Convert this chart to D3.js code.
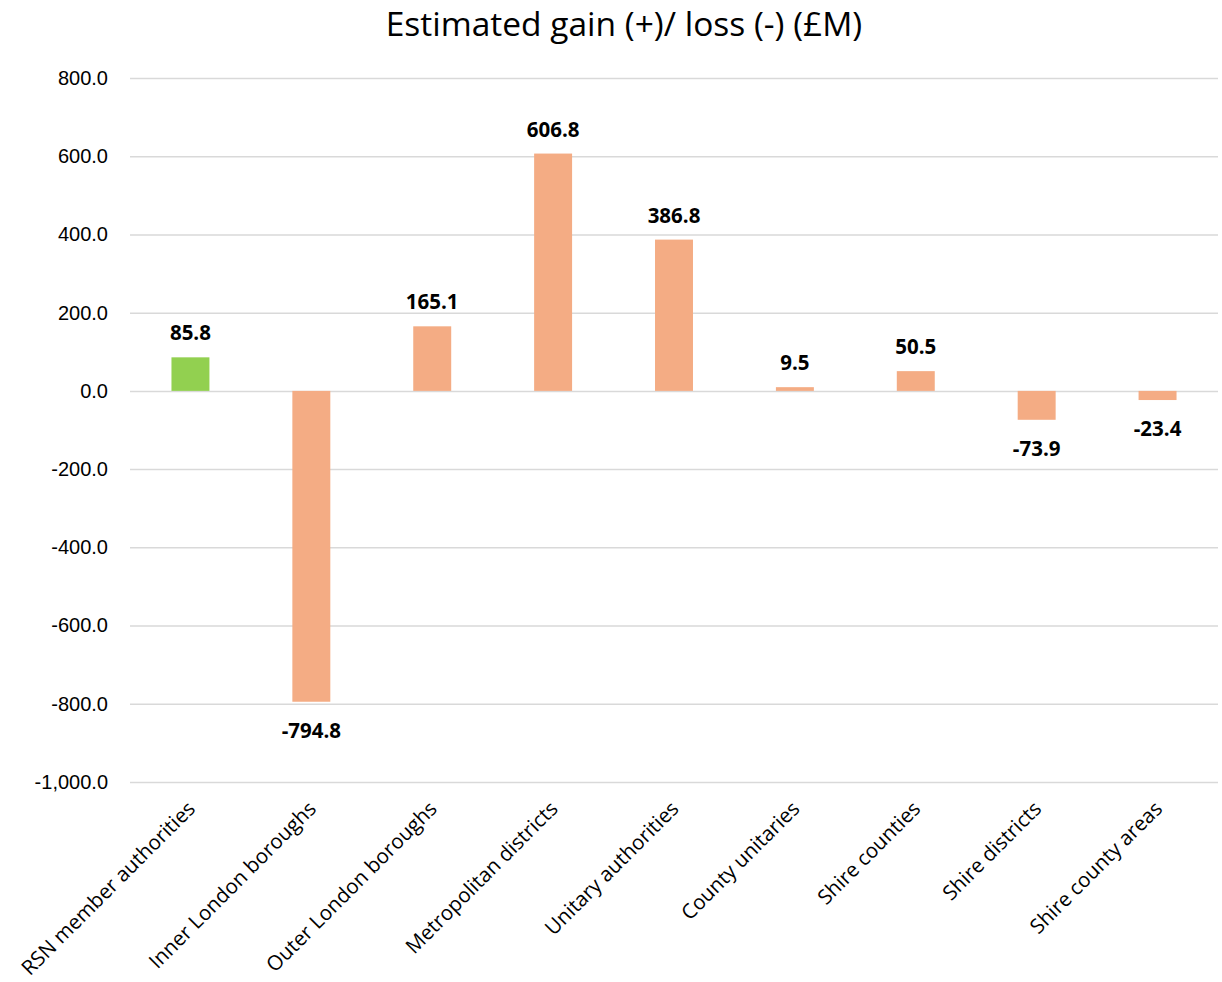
<!DOCTYPE html>
<html>
<head>
<meta charset="utf-8">
<script src="https://cdn.jsdelivr.net/npm/d3@7"></script>
<style>
  body { margin: 0; background: #fff; }
  svg { display: block; font-family: "Open Sans", "Noto Sans", sans-serif; }
</style>
</head>
<body>
<svg id="chart"></svg>
<script>
// Chart data
const categories = [
  'RSN member authorities', 'Inner London boroughs', 'Outer London boroughs',
  'Metropolitan districts', 'Unitary authorities', 'County unitaries',
  'Shire counties', 'Shire districts', 'Shire county areas'
];
const values = [85.8, -794.8, 165.1, 606.8, 386.8, 9.5, 50.5, -73.9, -23.4];
const yTicks = [800, 600, 400, 200, 0, -200, -400, -600, -800, -1000];
const title = 'Estimated gain (+)/ loss (-) (£M)';

const width = 1222, height = 982;
const plot = { left: 130, right: 1218, top: 78, bottom: 782 };

const svg = d3.select('#chart').attr('width', width).attr('height', height);

// Scales
const x = d3.scaleBand()
  .domain(categories)
  .range([plot.left, plot.right])
  .paddingInner(0.686)
  .paddingOuter(0.343);

const y = d3.scaleLinear()
  .domain([-1000, 800])
  .range([plot.bottom, plot.top]);

// Title
svg.append('text')
  .attr('x', 624)
  .attr('y', 36)
  .attr('text-anchor', 'middle')
  .attr('font-size', 33.5)
  .attr('fill', '#000')
  .text(title);

// Gridlines + y labels
const fmt = d3.format(',.1f');
const yAxis = d3.axisLeft(y)
  .tickValues(yTicks)
  .tickSize(-(plot.right - plot.left))
  .tickFormat(d => fmt(d).replace('\u2212', '-'));

const ga = svg.append('g')
  .attr('transform', `translate(${plot.left},0)`)
  .call(yAxis);
ga.select('.domain').remove();
ga.selectAll('.tick line').attr('stroke', '#d9d9d9').attr('stroke-width', 1.5);
ga.selectAll('.tick text')
  .attr('x', -22)
  .attr('font-size', 20)
  .attr('fill', '#000');

// Bars
svg.append('g')
  .selectAll('rect')
  .data(values)
  .join('rect')
  .attr('x', (d, i) => x(categories[i]))
  .attr('width', x.bandwidth())
  .attr('y', d => y(Math.max(0, d)))
  .attr('height', d => Math.abs(y(d) - y(0)))
  .attr('fill', (d, i) => i === 0 ? '#92d050' : '#f4ac84');

// Value labels
svg.append('g')
  .selectAll('text')
  .data(values)
  .join('text')
  .attr('x', (d, i) => x(categories[i]) + x.bandwidth() / 2)
  .attr('y', d => d >= 0 ? y(d) - 17 : y(d) + 36)
  .attr('text-anchor', 'middle')
  .attr('font-size', 20.5)
  .attr('font-weight', 'bold')
  .attr('fill', '#000')
  .text(d => d.toFixed(1));

// Category labels
svg.append('g')
  .selectAll('text')
  .data(categories)
  .join('text')
  .attr('transform', d => `translate(${x(d) + x.bandwidth() / 2 + 6},${y(-1000) + 28}) rotate(-45)`)
  .attr('text-anchor', 'end')
  .attr('font-size', 20.5)
  .attr('fill', '#000')
  .text(d => d);
</script>
</body>
</html>
